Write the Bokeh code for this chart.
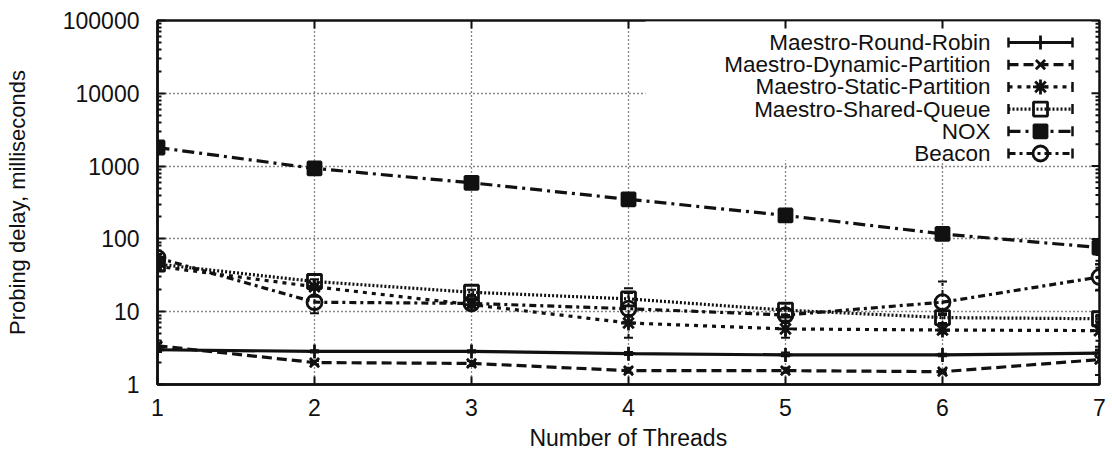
import math
from bokeh.plotting import figure
from bokeh.models import (Range1d, FixedTicker, Whisker, TeeHead,
                          ColumnDataSource, PrintfTickFormatter)
from bokeh.core.properties import value
from bokeh.embed import file_html
from bokeh.resources import INLINE

# ---- data: probing delay (ms) vs. number of threads ----
threads = [1, 2, 3, 4, 5, 6, 7]

round_robin = [3.0, 2.85, 2.85, 2.65, 2.55, 2.55, 2.7]
round_robin_lo = [2.8, 2.75, 2.75, 2.55, 2.45, 2.45, 2.4]
round_robin_hi = [3.3, 2.95, 2.95, 2.8, 2.75, 2.65, 3.0]

dynamic_partition = [3.4, 2.0, 1.95, 1.55, 1.55, 1.5, 2.2]
dynamic_partition_lo = [3.0, 1.9, 1.8, 1.45, 1.45, 1.42, 1.35]
dynamic_partition_hi = [3.7, 2.1, 2.1, 1.7, 1.7, 1.6, 2.9]

static_partition = [42, 22, 12.5, 7.0, 5.8, 5.6, 5.5]
static_partition_lo = [38, 20, 11.5, 4.4, 4.4, 5.0, 3.3]
static_partition_hi = [47, 24, 13.5, 9.0, 7.0, 6.5, 6.5]

shared_queue = [45, 26, 18.5, 15, 10.5, 8.3, 8.0]
shared_queue_lo = [41, 24, 17, 12, 9, 7, 7.4]
shared_queue_hi = [50, 28, 20, 18, 13, 9.5, 8.6]

nox = [1800, 930, 590, 350, 210, 117, 76]
nox_lo = [1750, 900, 570, 340, 200, 112, 45]
nox_hi = [1850, 960, 610, 360, 220, 122, 90]

beacon = [55, 13.5, 13, 11, 9, 13.5, 30]
beacon_lo = [50, 9.5, 12, 8.5, 7.5, 9, 19.5]
beacon_hi = [62, 16, 14, 21, 11, 26, 45]

series_names = ["Maestro-Round-Robin", "Maestro-Dynamic-Partition",
                "Maestro-Static-Partition", "Maestro-Shared-Queue",
                "NOX", "Beacon"]

y_tick_values = [1, 10, 100, 1000, 10000, 100000]

# ---- geometry of the plotting frame (pixels) ----
W, H = 1112, 453
F_LEFT, F_RIGHT, F_TOP, F_BOTTOM = 157, 1099, 20, 384
X_MIN, X_MAX = 1, 7
Y_MIN, Y_MAX = 1, 100000


def sx(px):
    return X_MIN + (px - F_LEFT) * (X_MAX - X_MIN) / (F_RIGHT - F_LEFT)


def sy(py):
    lo, hi = math.log10(Y_MIN), math.log10(Y_MAX)
    return 10 ** (hi - (py - F_TOP) * (hi - lo) / (F_BOTTOM - F_TOP))


FONT = "Liberation Sans"
INK = "#111111"

p = figure(width=W, height=H, x_range=Range1d(X_MIN, X_MAX),
           y_range=Range1d(Y_MIN, Y_MAX), y_axis_type="log",
           output_backend="svg", toolbar_location=None,
           min_border_left=F_LEFT, min_border_right=W - F_RIGHT,
           min_border_top=F_TOP, min_border_bottom=H - F_BOTTOM)
p.background_fill_color = "white"
p.border_fill_color = "white"
p.outline_line_color = INK
p.outline_line_width = 2.5

y_minor = [k * 10 ** d for d in range(0, 5) for k in range(2, 10)]
p.xaxis.ticker = FixedTicker(ticks=threads)
p.yaxis.ticker = FixedTicker(ticks=y_tick_values, minor_ticks=y_minor)
p.yaxis.formatter = PrintfTickFormatter(format="%d")
p.xaxis.axis_label = "Number of Threads"
p.yaxis.axis_label = "Probing delay, milliseconds"

for ax in (p.xaxis[0], p.yaxis[0]):
    ax.axis_line_color = INK
    ax.axis_line_width = 2.5
    ax.major_tick_in = 8
    ax.major_tick_out = 0
    ax.minor_tick_in = 4
    ax.minor_tick_out = 0
    ax.major_tick_line_color = INK
    ax.major_tick_line_width = 2
    ax.minor_tick_line_color = INK
    ax.minor_tick_line_width = 2
    ax.major_label_text_font = FONT
    ax.major_label_text_font_size = "23px"
    ax.major_label_text_color = INK
    ax.axis_label_text_font = FONT
    ax.axis_label_text_font_size = "23px"
    ax.axis_label_text_font_style = "normal"
    ax.axis_label_text_color = INK
p.yaxis.axis_label_text_font_size = "22px"
p.xaxis.minor_tick_line_color = None
p.xaxis.major_label_standoff = 14
p.xaxis.axis_label_standoff = 6
p.yaxis.major_label_standoff = 18
p.yaxis.axis_label_standoff = 30

p.xgrid.grid_line_color = INK
p.xgrid.grid_line_dash = "1 3"
p.xgrid.grid_line_width = 1.3
p.ygrid.grid_line_color = INK
p.ygrid.grid_line_dash = "1 3"
p.ygrid.grid_line_width = 1.3

# white key area masking the grid behind the key
p.quad(left=[sx(645)], right=[sx(1097)], top=[sy(F_TOP + 1)], bottom=[sy(160)],
       fill_color="white", line_color=None)

# mirrored tick marks along the top and right edges of the frame
top_ticks = threads[1:-1]
p.segment(x0=top_ticks, y0=[Y_MAX] * len(top_ticks),
          x1=top_ticks, y1=[sy(F_TOP + 8)] * len(top_ticks),
          line_color=INK, line_width=2)
p.segment(x0=[X_MAX] * len(y_tick_values), y0=y_tick_values,
          x1=[sx(F_RIGHT - 8)] * len(y_tick_values), y1=y_tick_values,
          line_color=INK, line_width=2)
p.segment(x0=[X_MAX] * len(y_minor), y0=y_minor,
          x1=[sx(F_RIGHT - 4)] * len(y_minor), y1=y_minor,
          line_color=INK, line_width=2)

styles = [
    dict(dash="solid", marker="cross", fill="white", size=14),
    dict(dash="10 5", marker="x", fill="white", size=13),
    dict(dash="4 5", marker="asterisk", fill="white", size=15),
    dict(dash="2 2", marker="square", fill=None, size=14),
    dict(dash="12 5 3 5", marker="square", fill=INK, size=13),
    dict(dash="7 4 3 4", marker="circle", fill=None, size=15),
]
values = [round_robin, dynamic_partition, static_partition, shared_queue, nox, beacon]
lows = [round_robin_lo, dynamic_partition_lo, static_partition_lo, shared_queue_lo, nox_lo, beacon_lo]
highs = [round_robin_hi, dynamic_partition_hi, static_partition_hi, shared_queue_hi, nox_hi, beacon_hi]


def marker_kw(st):
    kw = dict(marker=st["marker"], size=st["size"], line_color=INK, line_width=2.8)
    if st["fill"] is None:
        kw["fill_alpha"] = 0
    else:
        kw["fill_color"] = st["fill"]
    return kw


for name, vals, lo, hi, st in zip(series_names, values, lows, highs, styles):
    src = ColumnDataSource(dict(x=threads, y=vals, lo=lo, hi=hi))
    p.line("x", "y", source=src, line_color=INK, line_width=3.2, line_dash=st["dash"])
    p.add_layout(Whisker(base="x", lower="lo", upper="hi", source=src,
                         dimension="height", line_color=INK, line_width=2,
                         line_dash=st["dash"],
                         lower_head=TeeHead(size=9, line_color=INK, line_width=2),
                         upper_head=TeeHead(size=9, line_color=INK, line_width=2)))
    p.scatter("x", "y", source=src, **marker_kw(st))

# key: label, sample line with end caps and a marker
row_y = [42 + 22.2 * i for i in range(len(series_names))]
p.text(x=[sx(990)] * len(series_names), y=[sy(r) for r in row_y], text=series_names,
       text_align="right", text_baseline="middle", text_font=value(FONT),
       text_font_size="22.5px", text_color=INK)
for r, st in zip(row_y, styles):
    y0 = sy(r)
    p.line([sx(1008), sx(1072)], [y0, y0], line_color=INK, line_width=3.2, line_dash=st["dash"])
    p.segment(x0=[sx(1008), sx(1072)], y0=[sy(r - 5), sy(r - 5)],
              x1=[sx(1008), sx(1072)], y1=[sy(r + 5), sy(r + 5)],
              line_color=INK, line_width=2.5)
    p.scatter([sx(1040)], [y0], **marker_kw(st))

open("out.html", "w").write(file_html(p, INLINE))
